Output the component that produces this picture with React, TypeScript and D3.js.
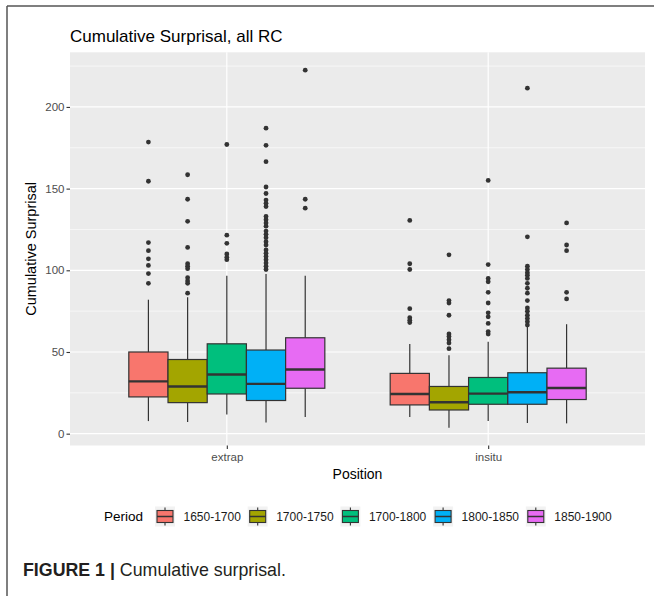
import React, { useRef, useEffect } from "react";
import * as d3 from "d3";

const positions = ["extrap", "insitu"];
const periods = ["1650-1700", "1700-1750", "1700-1800", "1800-1850", "1850-1900"];
const periodColors = ["#F8766D", "#A3A500", "#00BF7D", "#00B0F6", "#E76BF3"];
const yTicks = [0, 50, 100, 150, 200];

// box stats: one row per position, values in period order
const lowerWhisker = [
  [7.7, 7.1, 11.7, 6.8, 10.2],
  [10.2, 3.7, 7.7, 6.5, 6.3],
];
const q1 = [
  [22.5, 19, 24.3, 20.3, 27.8],
  [17.6, 14.5, 18, 18, 20.9],
];
const median = [
  [32, 28.9, 36.2, 30.5, 39.3],
  [24.3, 19.2, 24.5, 25.4, 28],
];
const q3 = [
  [50, 45.4, 55, 51.2, 58.7],
  [36.9, 28.9, 34.4, 37.3, 40.1],
];
const upperWhisker = [
  [82, 83.5, 96.6, 97.7, 96.6],
  [54.9, 48, 56.3, 65.5, 67],
];

const outliersExtrap = [
  [178.5, 154.5, 117, 112, 107, 103, 98, 92],
  [158.5, 143.5, 130, 114, 104, 102.5, 101, 95.5, 93.5, 92, 86],
  [177, 121.5, 116.5, 110, 108, 106.5],
  [187, 176.5, 166.5, 151, 147, 143, 141, 139, 133, 131, 129, 127, 124, 122, 120,
    117.5, 115.5, 112.5, 110.5, 108.5, 106.5, 104.5, 102.5, 100.5],
  [222.5, 143.5, 138],
];
const outliersInsitu = [
  [130.5, 104, 100.5, 76.5, 71, 69.5, 68],
  [109.5, 81.5, 80, 72.5, 61, 59.5, 57.5, 55.5, 52],
  [155, 103.5, 95, 93, 86.5, 80, 74, 71.5, 67.5, 62.5, 61],
  [211.5, 120.5, 102.5, 100.5, 98.5, 97, 95, 92, 89, 86, 81.5, 77, 75, 72.5, 70.5, 68.5, 66.5],
  [129, 115.5, 112, 86.5, 82.5],
];
const outliers = [outliersExtrap, outliersInsitu];

const width = 654;
const height = 596;
const panel = { left: 70, right: 645, top: 52.3, bottom: 445.5 };
const font = "'Liberation Sans', Arial, Helvetica, sans-serif";

const App = () => {
  const svgRef = useRef(null);

  useEffect(() => {
    const svg = d3.select(svgRef.current);
    svg.selectAll("*").remove();

    svg.append("rect").attr("width", width).attr("height", height).attr("fill", "white");

    // page frame (top + left only)
    svg.append("line").attr("x1", 7).attr("x2", width).attr("y1", 6).attr("y2", 6)
      .attr("stroke", "#555").attr("stroke-width", 1.5);
    svg.append("line").attr("x1", 7).attr("x2", 7).attr("y1", 6).attr("y2", height)
      .attr("stroke", "#555").attr("stroke-width", 1.5);

    // scales (ggplot style 5% expansion on y)
    const allVals = [...lowerWhisker.flat(), ...upperWhisker.flat(), ...outliers.flat(2)];
    const [lo, hi] = d3.extent(allVals);
    const pad = (hi - lo) * 0.05;
    const y = d3.scaleLinear().domain([lo - pad, hi + pad]).range([panel.bottom, panel.top]);

    const x = d3.scalePoint().domain(positions).range([panel.left, panel.right]).padding(0.6);
    const step = x.step();
    const dodge = d3.scaleBand().domain(periods).range([-0.375 * step, 0.375 * step]);
    const bw = dodge.bandwidth();

    // panel
    svg.append("rect")
      .attr("x", panel.left).attr("y", panel.top)
      .attr("width", panel.right - panel.left).attr("height", panel.bottom - panel.top)
      .attr("fill", "#EBEBEB");

    const tStep = yTicks[1] - yTicks[0];
    const minor = yTicks.map((t) => t + tStep / 2).filter((t) => t < y.domain()[1]);
    svg.append("g").selectAll("line").data(minor).enter().append("line")
      .attr("x1", panel.left).attr("x2", panel.right)
      .attr("y1", (d) => y(d)).attr("y2", (d) => y(d))
      .attr("stroke", "white").attr("stroke-width", 0.6);
    svg.append("g").selectAll("line").data(yTicks).enter().append("line")
      .attr("x1", panel.left).attr("x2", panel.right)
      .attr("y1", (d) => y(d)).attr("y2", (d) => y(d))
      .attr("stroke", "white").attr("stroke-width", 1.2);
    svg.append("g").selectAll("line").data(positions).enter().append("line")
      .attr("x1", (d) => x(d)).attr("x2", (d) => x(d))
      .attr("y1", panel.top).attr("y2", panel.bottom)
      .attr("stroke", "white").attr("stroke-width", 1.2);

    // axes
    const yAxisGroup = svg.append("g")
      .attr("transform", `translate(${panel.left},0)`)
      .call(d3.axisLeft(y).tickValues(yTicks).tickSize(3.5).tickPadding(2));
    yAxisGroup.select(".domain").remove();
    yAxisGroup.selectAll("line").attr("stroke", "#333").attr("stroke-width", 1.1);
    yAxisGroup.selectAll("text").attr("fill", "#4D4D4D").attr("font-size", 11.5).attr("font-family", font);

    const xAxisGroup = svg.append("g")
      .attr("transform", `translate(0,${panel.bottom})`)
      .call(d3.axisBottom(x).tickSize(3.5).tickPadding(4));
    xAxisGroup.select(".domain").remove();
    xAxisGroup.selectAll("line").attr("stroke", "#333").attr("stroke-width", 1.1);
    xAxisGroup.selectAll("text").attr("fill", "#4D4D4D").attr("font-size", 11.5).attr("font-family", font);

    // boxes
    positions.forEach((pos, i) => {
      periods.forEach((per, j) => {
        const cx = x(pos) + dodge(per) + bw / 2;
        const g = svg.append("g");
        g.append("line").attr("x1", cx).attr("x2", cx)
          .attr("y1", y(lowerWhisker[i][j])).attr("y2", y(q1[i][j]))
          .attr("stroke", "#333").attr("stroke-width", 1.2);
        g.append("line").attr("x1", cx).attr("x2", cx)
          .attr("y1", y(q3[i][j])).attr("y2", y(upperWhisker[i][j]))
          .attr("stroke", "#333").attr("stroke-width", 1.2);
        g.append("rect")
          .attr("x", cx - bw / 2).attr("width", bw)
          .attr("y", y(q3[i][j])).attr("height", y(q1[i][j]) - y(q3[i][j]))
          .attr("fill", periodColors[j]).attr("stroke", "#333").attr("stroke-width", 1.2);
        g.append("line").attr("x1", cx - bw / 2).attr("x2", cx + bw / 2)
          .attr("y1", y(median[i][j])).attr("y2", y(median[i][j]))
          .attr("stroke", "#333").attr("stroke-width", 2.4);
        g.selectAll("circle").data(outliers[i][j]).enter().append("circle")
          .attr("cx", cx).attr("cy", (d) => y(d)).attr("r", 2.4).attr("fill", "#333");
      });
    });

    // titles
    svg.append("text").attr("x", panel.left).attr("y", 42.3)
      .attr("font-size", 17).attr("font-family", font).attr("fill", "black")
      .text("Cumulative Surprisal, all RC");
    svg.append("text").attr("x", (panel.left + panel.right) / 2).attr("y", 479)
      .attr("text-anchor", "middle").attr("font-size", 14).attr("font-family", font)
      .text("Position");
    svg.append("text")
      .attr("transform", `translate(36,${(panel.top + panel.bottom) / 2}) rotate(-90)`)
      .attr("text-anchor", "middle").attr("font-size", 14.5).attr("font-family", font)
      .text("Cumulative Surprisal");

    // legend
    const legY = 516.5;
    svg.append("text").attr("x", 104).attr("y", legY + 4.6)
      .attr("font-size", 13.5).attr("font-family", font).text("Period");
    periods.forEach((per, j) => {
      const kx = 155 + j * 92.7;
      const g = svg.append("g");
      g.append("rect").attr("x", kx).attr("y", legY - 10).attr("width", 20).attr("height", 20)
        .attr("fill", "#F2F2F2");
      g.append("line").attr("x1", kx + 10).attr("x2", kx + 10)
        .attr("y1", legY - 9).attr("y2", legY + 9).attr("stroke", "#333").attr("stroke-width", 1.1);
      g.append("rect").attr("x", kx + 2).attr("y", legY - 6).attr("width", 16).attr("height", 12)
        .attr("fill", periodColors[j]).attr("stroke", "#333").attr("stroke-width", 1.1);
      g.append("line").attr("x1", kx + 2).attr("x2", kx + 18)
        .attr("y1", legY).attr("y2", legY).attr("stroke", "#333").attr("stroke-width", 1.5);
      g.append("text").attr("x", kx + 28.5).attr("y", legY + 4.3)
        .attr("font-size", 12).attr("font-family", font).attr("fill", "#1a1a1a").text(per);
    });

    // caption
    const cap = svg.append("text").attr("x", 23).attr("y", 576)
      .attr("font-size", 17.8).attr("font-family", font).attr("fill", "#231F20");
    cap.append("tspan").attr("font-weight", "bold").text("FIGURE 1 |");
    cap.append("tspan").text(" Cumulative surprisal.");
  }, []);

  return (
    <svg
      ref={svgRef}
      width={width}
      height={height}
      style={{ position: "absolute", left: 0, top: 0, display: "block" }}
    />
  );
};

export default App;
